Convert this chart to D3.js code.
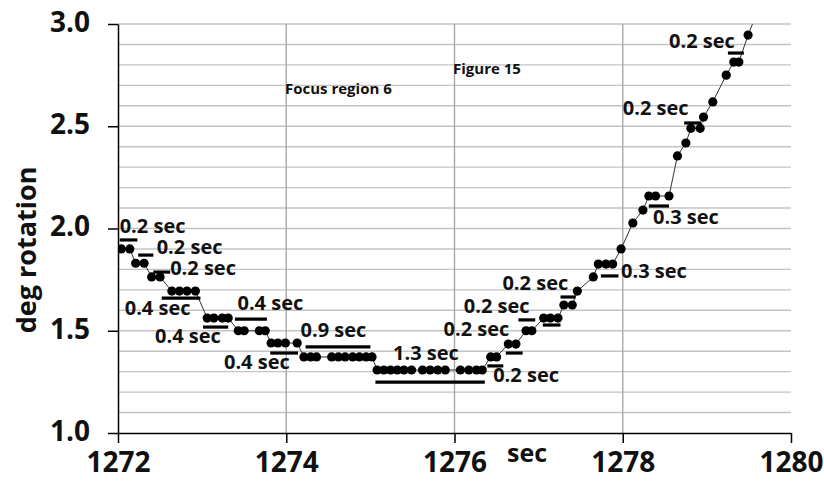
<!DOCTYPE html>
<html>
<head>
<meta charset="utf-8">
<script src="https://cdn.jsdelivr.net/npm/d3@7"></script>
<style>
  body { margin: 0; background: #fff; }
  svg { display: block; font-family: "Open Sans", sans-serif; }
</style>
</head>
<body>
<svg id="chart" width="824" height="490"></svg>
<script>
// sample times (sec) and rotation (deg)
const times = [
  1272.04, 1272.14, 1272.21, 1272.31, 1272.40, 1272.50,
  1272.64, 1272.73, 1272.82, 1272.92,
  1273.06, 1273.14, 1273.24, 1273.31,
  1273.43, 1273.50, 1273.68, 1273.75,
  1273.82, 1273.90, 1273.99, 1274.13,
  1274.21, 1274.29, 1274.36, 1274.54, 1274.62, 1274.70, 1274.79, 1274.87, 1274.95, 1275.02,
  1275.08, 1275.16, 1275.24, 1275.32, 1275.40, 1275.49, 1275.62, 1275.71, 1275.80, 1275.89, 1276.07, 1276.17, 1276.26, 1276.33,
  1276.43, 1276.50, 1276.64, 1276.73, 1276.85, 1276.92,
  1277.06, 1277.14, 1277.23, 1277.30, 1277.40, 1277.46,
  1277.65, 1277.71, 1277.80, 1277.88, 1277.98,
  1278.12, 1278.24, 1278.31, 1278.39, 1278.55,
  1278.65, 1278.75, 1278.81, 1278.92, 1278.96, 1279.07,
  1279.23, 1279.32, 1279.38, 1279.49, 1279.60
];
const rotation = [
  1.90, 1.90, 1.83, 1.83, 1.763, 1.763,
  1.694, 1.694, 1.694, 1.694,
  1.562, 1.562, 1.562, 1.562,
  1.50, 1.50, 1.50, 1.50,
  1.44, 1.44, 1.44, 1.44,
  1.372, 1.372, 1.372, 1.372, 1.372, 1.372, 1.372, 1.372, 1.372, 1.372,
  1.308, 1.308, 1.308, 1.308, 1.308, 1.308, 1.308, 1.308, 1.308, 1.308, 1.308, 1.308, 1.308, 1.308,
  1.372, 1.372, 1.435, 1.435, 1.50, 1.50,
  1.562, 1.562, 1.562, 1.626, 1.626, 1.694,
  1.763, 1.826, 1.826, 1.826, 1.90,
  2.027, 2.09, 2.159, 2.159, 2.159,
  2.355, 2.418, 2.49, 2.49, 2.545, 2.619,
  2.75, 2.814, 2.814, 2.946, 3.06
];

// duration bars: [start sec, end sec, deg]
const durationBars = [
  [1272.02, 1272.23, 1.944], [1272.24, 1272.42, 1.870], [1272.42, 1272.62, 1.787],
  [1272.52, 1272.98, 1.660], [1273.39, 1273.77, 1.557], [1273.01, 1273.31, 1.518],
  [1273.81, 1274.14, 1.391], [1274.23, 1275.00, 1.421], [1275.06, 1276.36, 1.249],
  [1276.39, 1276.58, 1.328], [1276.61, 1276.81, 1.391], [1276.76, 1276.96, 1.553],
  [1277.05, 1277.26, 1.528], [1277.26, 1277.44, 1.665], [1277.74, 1277.95, 1.768],
  [1278.31, 1278.55, 2.110], [1278.73, 1278.93, 2.516], [1279.25, 1279.44, 2.858]
];

// duration labels: [text, sec (left edge), deg (middle)]
const durationLabels = [
  ["0.2 sec", 1272.02, 2.002], ["0.2 sec", 1272.46, 1.900], ["0.2 sec", 1272.62, 1.797],
  ["0.4 sec", 1272.08, 1.601], ["0.4 sec", 1273.42, 1.626], ["0.4 sec", 1272.44, 1.465],
  ["0.4 sec", 1273.26, 1.337], ["0.9 sec", 1274.17, 1.494], ["1.3 sec", 1275.27, 1.381],
  ["0.2 sec", 1276.46, 1.274], ["0.2 sec", 1275.87, 1.499], ["0.2 sec", 1276.11, 1.611],
  ["0.2 sec", 1276.57, 1.724], ["0.3 sec", 1277.98, 1.782], ["0.3 sec", 1278.36, 2.046],
  ["0.2 sec", 1278.00, 2.579], ["0.2 sec", 1278.55, 2.907]
];

const xTicks = [1272, 1274, 1276, 1278, 1280];
const yTicks = [1.0, 1.5, 2.0, 2.5, 3.0];
const yGrid = d3.range(11, 31).map(d => d / 10);

const svg = d3.select("#chart");
const x = d3.scaleLinear().domain([1272, 1280]).range([118, 791]);
const y = d3.scaleLinear().domain([1, 3]).range([433, 24]);

svg.append("defs").append("clipPath").attr("id", "plotclip")
  .append("rect").attr("x", x(1272)).attr("y", y(3)).attr("width", x(1280) - x(1272)).attr("height", y(1) - y(3));

// gridlines
svg.append("g").selectAll("line").data(yGrid).join("line")
  .attr("x1", x(1272)).attr("x2", x(1280))
  .attr("y1", d => y(d)).attr("y2", d => y(d))
  .attr("stroke", "#c4c4c4").attr("stroke-width", 1.4);
svg.append("g").selectAll("line").data(xTicks.slice(1, -1)).join("line")
  .attr("x1", d => x(d)).attr("x2", d => x(d))
  .attr("y1", y(1)).attr("y2", y(3))
  .attr("stroke", "#a8a8a8").attr("stroke-width", 1.4);

// axes
const xAxis = svg.append("g").attr("transform", `translate(0,${y(1)})`)
  .call(d3.axisBottom(x).tickValues(xTicks).tickFormat(d3.format("d")).tickSize(10).tickSizeOuter(0));
xAxis.select(".domain").attr("stroke", "#000").attr("stroke-width", 1.5);
xAxis.selectAll(".tick line").attr("stroke", "#000").attr("stroke-width", 1.5);
xAxis.selectAll(".tick text").attr("font-size", 28).attr("font-weight", "bold")
  .attr("fill", "#111").attr("font-family", "Open Sans").attr("dy", null).attr("y", 32).attr("dominant-baseline", "middle");

const yAxis = svg.append("g").attr("transform", `translate(${x(1272)},0)`)
  .call(d3.axisLeft(y).tickValues(yTicks).tickFormat(d3.format(".1f")).tickSize(10).tickSizeOuter(0));
yAxis.select(".domain").attr("stroke", "#000").attr("stroke-width", 1.5);
yAxis.selectAll(".tick line").attr("stroke", "#000").attr("stroke-width", 1.5);
yAxis.selectAll(".tick text").attr("font-size", 28).attr("font-weight", "bold")
  .attr("fill", "#111").attr("font-family", "Open Sans").attr("x", -28).attr("dy", null).attr("dominant-baseline", "middle");

// axis titles
svg.append("text").attr("x", 527).attr("y", 455).attr("text-anchor", "middle").attr("dominant-baseline", "middle")
  .attr("font-size", 25).attr("font-weight", "bold").attr("fill", "#111").text("sec");
svg.append("text").attr("transform", "translate(29,250) rotate(-90)").attr("text-anchor", "middle").attr("dominant-baseline", "middle")
  .attr("font-size", 27).attr("font-weight", "bold").attr("fill", "#111").text("deg rotation");

// notes
svg.append("text").attr("x", 285).attr("y", 90).attr("dominant-baseline", "middle")
  .attr("font-size", 15).attr("font-weight", "bold").attr("fill", "#111").text("Focus region 6");
svg.append("text").attr("x", 453).attr("y", 70).attr("dominant-baseline", "middle")
  .attr("font-size", 15).attr("font-weight", "bold").attr("fill", "#111").text("Figure 15");

// data
const pts = times.map((t, i) => ({ t, v: rotation[i] }));
const plot = svg.append("g").attr("clip-path", "url(#plotclip)");
plot.append("path").datum(pts)
  .attr("fill", "none").attr("stroke", "#333").attr("stroke-width", 1)
  .attr("d", d3.line().x(d => x(d.t)).y(d => y(d.v)));
plot.selectAll("circle").data(pts).join("circle")
  .attr("cx", d => x(d.t)).attr("cy", d => y(d.v)).attr("r", 4.6).attr("fill", "#000");

// duration bars and labels
svg.append("g").selectAll("line").data(durationBars).join("line")
  .attr("x1", d => x(d[0])).attr("x2", d => x(d[1]))
  .attr("y1", d => y(d[2])).attr("y2", d => y(d[2]))
  .attr("stroke", "#000").attr("stroke-width", 3.2);
svg.append("g").selectAll("text").data(durationLabels).join("text")
  .attr("x", d => x(d[1])).attr("y", d => y(d[2]))
  .attr("dominant-baseline", "middle")
  .attr("font-size", 20).attr("font-weight", "bold").attr("fill", "#111")
  .text(d => d[0]);
</script>
</body>
</html>
